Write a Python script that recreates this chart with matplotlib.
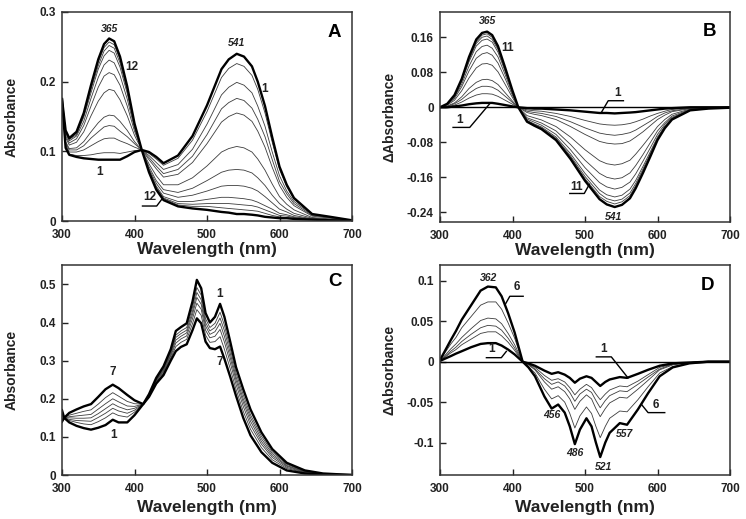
import matplotlib
matplotlib.use("Agg")
import matplotlib.pyplot as plt

plt.rcParams['font.family'] = ['Liberation Sans', 'DejaVu Sans']
plt.rcParams['font.weight'] = 'bold'

# ---- Panel A: absorbance spectra, curves 1..12 ----
wl_a = [300, 305, 310, 320, 330, 340, 350, 358, 365, 372, 380, 390, 400, 410, 420, 430, 440,
        460, 480, 500, 520, 530, 541, 551, 562, 570, 580, 590, 600, 610, 620, 645, 670, 700]
abs_a = [
    [.175, .105, .095, .092, .090, .089, .088, .088, .088, .088, .088, .093, .099, .102, .099, .092, .083, .094, .122, .166, .218, .232, .240, .236, .222, .200, .165, .120, .078, .052, .033, .010, .006, .001],
    [.175, .107, .096, .094, .094, .095, .097, .098, .098, .098, .097, .099, .101, .102, .097, .089, .080, .090, .116, .157, .206, .219, .226, .222, .209, .189, .155, .113, .074, .049, .031, .010, .006, .001],
    [.175, .110, .099, .099, .102, .108, .114, .118, .119, .119, .115, .111, .106, .102, .094, .084, .074, .081, .103, .139, .181, .192, .199, .195, .184, .165, .136, .099, .065, .043, .028, .009, .005, .001],
    [.175, .112, .102, .102, .108, .119, .128, .135, .137, .136, .129, .121, .111, .102, .091, .079, .068, .074, .093, .124, .161, .170, .176, .173, .162, .146, .121, .088, .057, .039, .025, .008, .005, .001],
    [.175, .114, .104, .105, .114, .128, .141, .149, .152, .151, .143, .130, .114, .102, .088, .075, .063, .067, .084, .111, .142, .150, .155, .152, .143, .129, .106, .077, .051, .034, .022, .007, .004, .001],
    [.175, .120, .109, .113, .128, .151, .172, .184, .189, .187, .174, .151, .123, .102, .082, .065, .052, .052, .062, .079, .099, .104, .107, .105, .099, .089, .073, .053, .035, .024, .016, .005, .003, .001],
    [.175, .123, .112, .118, .137, .165, .192, .208, .213, .210, .195, .165, .129, .102, .078, .058, .045, .041, .047, .058, .070, .073, .074, .073, .069, .062, .051, .037, .025, .017, .011, .004, .002, .001],
    [.175, .126, .115, .122, .143, .176, .206, .224, .231, .227, .209, .175, .133, .102, .075, .054, .040, .034, .037, .043, .050, .051, .051, .050, .047, .043, .035, .026, .017, .013, .008, .003, .002, .001],
    [.175, .128, .117, .124, .149, .184, .218, .237, .245, .241, .221, .183, .136, .102, .073, .050, .035, .028, .028, .031, .034, .034, .033, .032, .030, .027, .022, .017, .011, .009, .006, .003, .002, .001],
    [.175, .129, .118, .126, .151, .189, .223, .244, .252, .248, .227, .187, .138, .102, .072, .048, .033, .025, .024, .025, .025, .025, .024, .023, .022, .020, .016, .012, .008, .007, .005, .002, .001, .001],
    [.175, .129, .118, .127, .153, .192, .228, .249, .257, .253, .232, .190, .139, .102, .071, .046, .032, .023, .021, .021, .019, .018, .017, .016, .015, .014, .011, .008, .006, .005, .004, .002, .001, .001],
    [.175, .130, .119, .128, .155, .195, .232, .254, .262, .258, .236, .193, .140, .102, .070, .045, .030, .021, .018, .016, .013, .012, .010, .010, .009, .008, .006, .005, .004, .004, .003, .002, .001, .000],
]

# ---- Panel B: difference spectra, curves 1..11 ----
wl_b = [300, 310, 320, 330, 340, 350, 358, 365, 372, 380, 390, 400, 408, 420, 430, 440,
        460, 480, 500, 520, 530, 541, 551, 562, 570, 580, 590, 600, 610, 620, 645, 670, 700]
dabs_b = [
    [0, .000, .002, .004, .007, .009, .010, .010, .010, .008, .005, .002, 0, -.002, -.003, -.003, -.005, -.007, -.010, -.013, -.013, -.014, -.013, -.012, -.011, -.009, -.007, -.005, -.003, -.002, 0, 0, 0],
    [0, .001, .005, .012, .021, .028, .031, .031, .030, .025, .016, .007, 0, -.006, -.008, -.009, -.014, -.021, -.030, -.038, -.040, -.041, -.040, -.037, -.033, -.027, -.020, -.014, -.009, -.005, -.001, -.001, 0],
    [0, .002, .008, .018, .032, .043, .048, .048, .046, .039, .025, .011, 0, -.009, -.012, -.014, -.021, -.033, -.047, -.059, -.062, -.064, -.062, -.058, -.052, -.042, -.032, -.021, -.013, -.008, -.002, -.001, 0],
    [0, .003, .010, .024, .043, .057, .063, .064, .061, .052, .033, .014, 0, -.012, -.016, -.019, -.028, -.044, -.062, -.078, -.082, -.084, -.083, -.077, -.068, -.056, -.042, -.028, -.018, -.010, -.003, -.001, 0],
    [0, .005, .016, .038, .067, .090, .099, .100, .096, .081, .052, .022, 0, -.019, -.024, -.029, -.044, -.068, -.097, -.122, -.129, -.132, -.129, -.121, -.107, -.087, -.066, -.044, -.028, -.016, -.004, -.002, -.001],
    [0, .006, .020, .047, .083, .112, .122, .125, .119, .101, .065, .027, 0, -.024, -.030, -.036, -.054, -.085, -.121, -.151, -.160, -.164, -.161, -.150, -.133, -.108, -.081, -.054, -.035, -.020, -.005, -.002, -.001],
    [0, .007, .023, .053, .094, .127, .139, .142, .135, .115, .074, .031, 0, -.027, -.034, -.041, -.062, -.097, -.138, -.172, -.182, -.187, -.183, -.171, -.152, -.123, -.093, -.062, -.039, -.023, -.006, -.002, -.001],
    [0, .007, .025, .059, .104, .140, .153, .156, .149, .126, .081, .034, 0, -.030, -.038, -.045, -.068, -.106, -.151, -.189, -.200, -.205, -.201, -.187, -.167, -.135, -.102, -.068, -.043, -.025, -.006, -.003, -.001],
    [0, .008, .026, .061, .108, .146, .160, .163, .155, .132, .085, .036, 0, -.031, -.039, -.047, -.071, -.111, -.158, -.197, -.209, -.214, -.210, -.196, -.174, -.141, -.106, -.071, -.045, -.026, -.007, -.003, -.001],
    [0, .008, .027, .063, .112, .150, .165, .168, .160, .136, .087, .037, 0, -.032, -.041, -.049, -.073, -.114, -.163, -.204, -.215, -.221, -.216, -.202, -.179, -.146, -.110, -.073, -.047, -.027, -.007, -.003, -.001],
    [0, .008, .028, .065, .115, .155, .170, .173, .165, .140, .090, .038, 0, -.033, -.042, -.050, -.075, -.118, -.168, -.210, -.222, -.228, -.223, -.208, -.185, -.150, -.113, -.075, -.048, -.028, -.007, -.003, -.001],
]

# ---- Panel C: absorbance spectra, curves 1..7 ----
wl_c = [300, 303, 310, 320, 330, 340, 350, 360, 370, 378, 390, 400, 412, 420, 430, 440, 450, 457, 464,
        472, 480, 486, 492, 498, 504, 511, 518, 524, 532, 540, 550, 560, 575, 590, 610, 635, 660, 700]
abs_c = [
    [.140, .150, .138, .129, .123, .119, .124, .131, .145, .138, .138, .157, .186, .212, .255, .285, .330, .378, .388, .398, .455, .512, .490, .425, .400, .415, .449, .415, .350, .283, .225, .172, .112, .068, .032, .012, .004, 0],
    [.146, .150, .143, .138, .134, .132, .140, .150, .163, .156, .152, .165, .186, .211, .252, .280, .324, .367, .378, .387, .440, .492, .472, .410, .387, .398, .427, .393, .332, .268, .210, .158, .102, .061, .028, .010, .003, 0],
    [.150, .150, .146, .143, .142, .141, .151, .162, .175, .168, .162, .170, .186, .210, .250, .277, .320, .361, .371, .380, .430, .479, .460, .400, .378, .387, .412, .379, .320, .258, .200, .150, .095, .056, .025, .009, .003, 0],
    [.154, .150, .150, .149, .149, .150, .161, .174, .187, .179, .171, .175, .186, .209, .248, .274, .316, .354, .364, .373, .421, .466, .448, .391, .369, .376, .398, .364, .308, .249, .191, .141, .088, .051, .023, .008, .003, 0],
    [.158, .150, .153, .155, .157, .159, .173, .187, .200, .192, .181, .180, .186, .208, .246, .271, .312, .346, .357, .365, .410, .451, .435, .380, .360, .364, .382, .349, .295, .238, .180, .131, .081, .046, .020, .007, .002, 0],
    [.163, .150, .157, .162, .167, .171, .186, .203, .216, .207, .193, .187, .186, .207, .243, .267, .307, .337, .348, .356, .397, .434, .419, .367, .348, .350, .363, .330, .279, .225, .167, .120, .072, .040, .017, .006, .002, 0],
    [.170, .150, .163, .172, .180, .186, .205, .225, .237, .228, .210, .196, .186, .205, .240, .262, .300, .325, .336, .343, .380, .411, .398, .350, .333, .330, .337, .305, .258, .208, .150, .104, .060, .032, .012, .004, .001, 0],
]

# ---- Panel D: difference spectra, curves 1..6 ----
wl_d = [300, 315, 322, 330, 343, 356, 366, 377, 385, 394, 403, 414, 422, 431, 444, 454, 463, 472,
        479, 486, 493, 502, 509, 515, 521, 528, 534, 548, 558, 573, 587, 603, 621, 644, 670, 700]
dabs_d = [
    [.001, .007, .010, .013, .018, .022, .023, .023, .020, .015, .009, 0, -.002, -.005, -.011, -.015, -.013, -.016, -.020, -.026, -.021, -.018, -.020, -.025, -.030, -.025, -.022, -.019, -.020, -.015, -.010, -.005, -.002, -.001, 0, 0],
    [.001, .011, .015, .021, .028, .035, .037, .037, .032, .024, .014, 0, -.003, -.007, -.017, -.023, -.021, -.025, -.032, -.041, -.034, -.028, -.032, -.040, -.047, -.040, -.035, -.030, -.031, -.024, -.016, -.007, -.003, -.001, 0, 0],
    [.001, .013, .018, .025, .034, .042, .045, .044, .039, .029, .017, 0, -.003, -.009, -.021, -.028, -.025, -.030, -.038, -.049, -.040, -.034, -.038, -.048, -.057, -.048, -.042, -.036, -.037, -.028, -.019, -.009, -.003, -.001, 0, 0],
    [.001, .016, .022, .030, .041, .051, .054, .053, .047, .035, .021, 0, -.004, -.010, -.025, -.034, -.031, -.037, -.046, -.059, -.049, -.041, -.046, -.058, -.068, -.058, -.051, -.044, -.045, -.034, -.023, -.010, -.004, -.001, 0, 0],
    [.002, .022, .030, .042, .056, .070, .074, .074, .065, .048, .029, 0, -.006, -.014, -.034, -.046, -.042, -.050, -.064, -.082, -.067, -.056, -.064, -.080, -.094, -.080, -.070, -.061, -.062, -.047, -.031, -.014, -.006, -.002, 0, 0],
    [.002, .027, .038, .052, .070, .088, .093, .092, .081, .060, .036, 0, -.007, -.018, -.043, -.058, -.053, -.063, -.080, -.102, -.084, -.070, -.080, -.100, -.118, -.100, -.088, -.076, -.078, -.059, -.039, -.018, -.007, -.002, 0, 0],
]

xticks = [300, 400, 500, 600, 700]

W, H = 746, 519
fig = plt.figure(figsize=(W / 100, H / 100), dpi=100)


def add_axes(left, top, right, bottom):
    return fig.add_axes([left / W, 1 - bottom / H, (right - left) / W, (bottom - top) / H])


def style(ax, ylim, yticks, ylabels, ylabel, xlab_y):
    ax.set_xlim(300, 700)
    ax.set_ylim(*ylim)
    ax.set_xticks(xticks)
    ax.set_xticklabels([str(t) for t in xticks])
    ax.set_yticks(yticks)
    ax.set_yticklabels(ylabels)
    ax.tick_params(direction='in', length=4, width=1, labelsize=8.5, colors='#222222')
    ax.tick_params(axis='x', pad=5.5)
    ax.tick_params(axis='y', pad=4.5)
    for s in ax.spines.values():
        s.set_linewidth(1.1)
        s.set_color('#333333')
    ax.set_xlabel("Wavelength (nm)", fontsize=12.5, fontweight='bold', color='#222222')
    ax.xaxis.set_label_coords(0.5, xlab_y)
    ax.set_ylabel(ylabel, fontsize=10, fontweight='bold', color='#222222')
    ax.yaxis.set_label_coords(-0.15, 0.5)


def draw(ax, wl, curves):
    for y in curves[1:-1]:
        ax.plot(wl, y, color='#3c3c3c', lw=0.6)
    ax.plot(wl, curves[0], color='black', lw=1.7)
    ax.plot(wl, curves[-1], color='black', lw=1.7)


def note(ax, x, y, s, italic=False, size=8.5):
    ax.text(x, y, s, ha='center', va='center', fontsize=size if not italic else 7.5,
            fontweight='bold', style='italic' if italic else 'normal', color='#222222')


def leader(ax, xs, ys):
    ax.plot(xs, ys, color='black', lw=1.0)


# Panel A
ax = add_axes(62, 12, 352, 221)
draw(ax, wl_a, abs_a)
style(ax, (0, 0.3), [0, 0.1, 0.2, 0.3], ['0', '0.1', '0.2', '0.3'], 'Absorbance', -0.1)
note(ax, 365, 0.276, '365', italic=True)
note(ax, 541, 0.255, '541', italic=True)
note(ax, 396, 0.221, '12')
note(ax, 580, 0.190, '1')
note(ax, 352, 0.071, '1')
note(ax, 421, 0.034, '12')
leader(ax, [411, 430.6, 437.5], [0.0215, 0.0215, 0.031])
ax.text(676, 0.271, 'A', ha='center', va='center', fontsize=13.5, fontweight='bold')

# Panel B
ax = add_axes(440, 12, 730, 222)
ax.axhline(0, color='black', lw=1.0)
draw(ax, wl_b, dabs_b)
style(ax, (-0.2622, 0.2178), [-0.24, -0.16, -0.08, 0, 0.08, 0.16],
      ['-0.24', '-0.16', '-0.08', '0', '0.08', '0.16'], '\u0394Absorbance', -0.1)
note(ax, 366, 0.198, '365', italic=True)
note(ax, 393, 0.135, '11')
note(ax, 545, 0.032, '1')
leader(ax, [522.5, 532, 553], [-0.012, 0.015, 0.015])
note(ax, 327, -0.030, '1')
leader(ax, [318, 341, 368.5], [-0.046, -0.046, 0.008])
note(ax, 488, -0.182, '11')
leader(ax, [479, 499, 506], [-0.197, -0.197, -0.176])
note(ax, 540, -0.250, '541', italic=True)
ax.text(672, 0.173, 'B', ha='center', va='center', fontsize=13.5, fontweight='bold')

# Panel C
ax = add_axes(62, 265, 352, 475)
draw(ax, wl_c, abs_c)
style(ax, (0, 0.551), [0, 0.1, 0.2, 0.3, 0.4, 0.5],
      ['0', '0.1', '0.2', '0.3', '0.4', '0.5'], 'Absorbance', -0.12)
note(ax, 370.5, 0.269, '7')
note(ax, 370.5, 0.105, '1')
note(ax, 518, 0.475, '1')
note(ax, 518, 0.297, '7')
ax.text(677, 0.507, 'C', ha='center', va='center', fontsize=13.5, fontweight='bold')

# Panel D
ax = add_axes(440, 265, 730, 475)
ax.axhline(0, color='black', lw=1.0)
draw(ax, wl_d, dabs_d)
style(ax, (-0.1402, 0.1197), [-0.1, -0.05, 0, 0.05, 0.1],
      ['-0.1', '-0.05', '0', '0.05', '0.1'], '\u0394Absorbance', -0.12)
note(ax, 366.5, 0.103, '362', italic=True)
note(ax, 406, 0.092, '6')
leader(ax, [389.4, 396.3, 414.7], [0.070, 0.081, 0.081])
note(ax, 371, 0.016, '1')
leader(ax, [364, 384.6, 391.5], [0.005, 0.005, 0.0128])
note(ax, 526, 0.016, '1')
leader(ax, [515.6, 536.3, 559.3], [0.006, 0.006, -0.020])
note(ax, 598, -0.054, '6')
leader(ax, [578, 587, 610], [-0.053, -0.063, -0.063])
note(ax, 454, -0.066, '456', italic=True)
note(ax, 486, -0.113, '486', italic=True)
note(ax, 525, -0.130, '521', italic=True)
note(ax, 555, -0.090, '557', italic=True)
ax.text(669, 0.094, 'D', ha='center', va='center', fontsize=13.5, fontweight='bold')

fig.savefig("out.png", dpi=100)
